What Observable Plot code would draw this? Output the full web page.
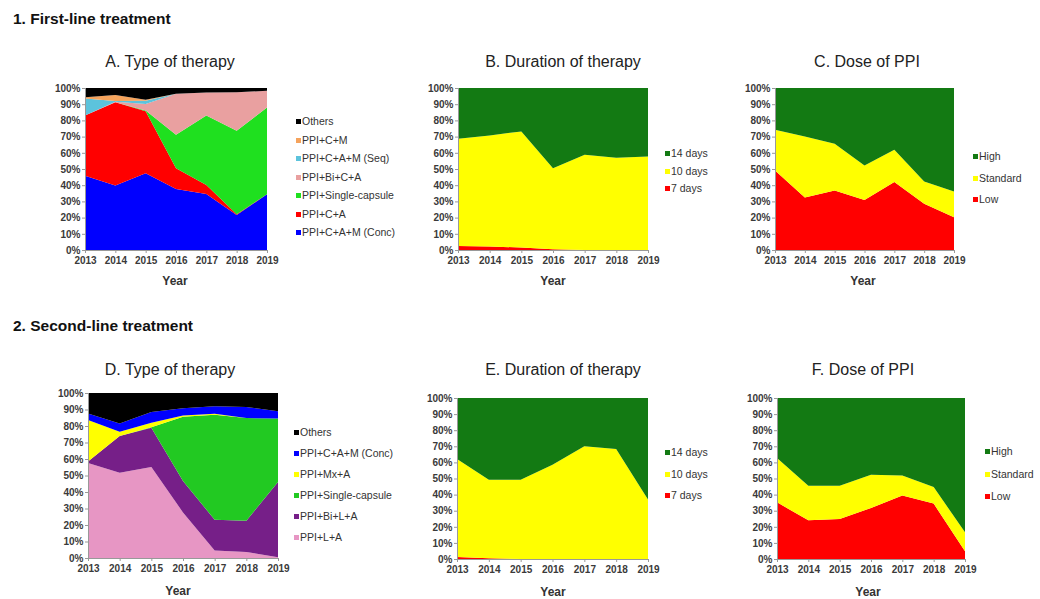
<!DOCTYPE html>
<html>
<head>
<meta charset="utf-8">
<script src="https://cdn.jsdelivr.net/npm/d3@7"></script>
<script src="https://cdn.jsdelivr.net/npm/@observablehq/plot@0.6"></script>
<style>
  html, body { margin: 0; padding: 0; background: #fff; }
  #root { position: relative; width: 1040px; height: 599px; overflow: hidden; font-family: "Liberation Sans", Arial, sans-serif; }
  .abs { position: absolute; white-space: nowrap; }
  .section { font-weight: bold; font-size: 15.5px; color: #111; transform: translateY(-50%); }
  .ptitle { font-size: 16px; color: #222; transform: translate(-50%, -50%); }
  .xlabel { font-size: 12px; font-weight: bold; color: #333; transform: translate(-50%, -50%); }
  .leg { font-size: 10.5px; color: #333; transform: translateY(-50%); }
  .sw { display: inline-block; width: 5px; height: 5px; margin-right: 1px; vertical-align: 1px; }
</style>
</head>
<body>
<div id="root"></div>
<script>
const years = [2013, 2014, 2015, 2016, 2017, 2018, 2019];
const yTicks = [0, 10, 20, 30, 40, 50, 60, 70, 80, 90, 100];

// Panel A: first-line type of therapy (bottom -> top)
const aSeries = ["PPI+C+A+M (Conc)", "PPI+C+A", "PPI+Single-capsule", "PPI+Bi+C+A", "PPI+C+A+M (Seq)", "PPI+C+M", "Others"];
const aColors = ["#0000ff", "#ff0000", "#1fe01f", "#e9a0a0", "#5cc3dc", "#f5a35c", "#000000"];
const aConc   = [45.8, 39.8, 47.4, 37.7, 34.6, 21.6, 34.4];
const aCA     = [37.2, 51.4, 38.2, 12.8, 5.6, 0.5, 0];
const aSingle = [0, 0, 0.5, 20.6, 42.8, 51.5, 53.6];
const aBiCA   = [0, 0.3, 4.0, 25.4, 14.2, 23.7, 10.3];
const aSeq    = [10.5, 0.5, 2.0, 0, 0, 0, 0];
const aCM     = [0.8, 3.7, 0.7, 0, 0, 0, 0];
const aOthers = [5.7, 4.3, 7.2, 3.5, 2.8, 2.7, 1.7];

// Panel B: first-line duration
const durSeries = ["7 days", "10 days", "14 days"];
const durColors = ["#ff0000", "#ffff00", "#137a13"];
const b7  = [2.5, 2.2, 1.5, 0.5, 0, 0, 0];
const b10 = [66.2, 68.5, 71.7, 50.0, 58.8, 56.9, 57.7];
const b14 = [31.3, 29.3, 26.8, 49.5, 41.2, 43.1, 42.3];

// Panel C: first-line dose
const doseSeries = ["Low", "Standard", "High"];
const doseColors = ["#ff0000", "#ffff00", "#137a13"];
const cLow  = [49.1, 32.4, 36.7, 30.9, 41.9, 28.5, 20.2];
const cStd  = [25.1, 37.7, 28.9, 21.3, 20.0, 13.8, 15.9];
const cHigh = [25.8, 29.9, 34.4, 47.8, 38.1, 57.7, 63.9];

// Panel D: second-line type of therapy (bottom -> top)
const dSeries = ["PPI+L+A", "PPI+Bi+L+A", "PPI+Single-capsule", "PPI+Mx+A", "PPI+C+A+M (Conc)", "Others"];
const dColors = ["#e796c4", "#761f88", "#22c922", "#ffff00", "#0000ff", "#000000"];
const dLA     = [57.6, 51.6, 55.2, 27.6, 4.6, 3.6, 0.5];
const dBiLA   = [0.9, 22.4, 23.8, 19.0, 18.6, 19.0, 45.5];
const dSingle = [0, 0, 0.2, 39.0, 63.6, 62.2, 38.6];
const dMxA    = [25.1, 2.5, 2.8, 0.7, 0.7, 0, 0];
const dConc   = [4.0, 5.0, 6.5, 4.5, 4.5, 6.7, 4.4];
const dOthers = [12.4, 18.5, 11.5, 9.2, 8.0, 8.5, 11.0];

// Panel E: second-line duration
const e7  = [1.2, 0.5, 0, 0, 0, 0, 0];
const e10 = [60.9, 48.8, 49.3, 58.6, 70.0, 68.3, 36.9];
const e14 = [37.9, 50.7, 50.7, 41.4, 30.0, 31.7, 63.1];

// Panel F: second-line dose
const fLow  = [35.2, 24.0, 24.8, 31.7, 39.5, 34.4, 4.8];
const fStd  = [27.5, 21.5, 20.7, 20.7, 12.3, 10.3, 11.8];
const fHigh = [37.3, 54.5, 54.5, 47.6, 48.2, 55.3, 83.4];

function toLong(series, arrays) {
  const out = [];
  series.forEach((s, i) => years.forEach((y, j) => out.push({year: y, series: s, value: arrays[i][j]})));
  return out;
}

const root = document.getElementById("root");
function addText(cls, text, x, y) {
  const d = document.createElement("div");
  d.className = "abs " + cls;
  d.style.left = x + "px";
  d.style.top = y + "px";
  d.textContent = text;
  root.appendChild(d);
  return d;
}

function panel(cfg) {
  const ml = 44, mr = 8, mt = 8, mb = 24;
  const w = cfg.right - cfg.left + ml + mr;
  const h = cfg.bottom - cfg.top + mt + mb;
  const data = toLong(cfg.series, cfg.arrays);
  const chart = Plot.plot({
    width: w, height: h,
    marginLeft: ml, marginRight: mr, marginTop: mt, marginBottom: mb,
    style: {fontFamily: "'Liberation Sans', Arial, sans-serif", fontSize: "10px", color: "#3a3a3a", background: "transparent", overflow: "visible"},
    x: {domain: [2013, 2019], label: null},
    y: {domain: [0, 100], label: null},
    color: {domain: cfg.series, range: cfg.colors},
    marks: [
      Plot.areaY(data, {x: "year", y: "value", fill: "series", order: cfg.series, curve: "linear"}),
      Plot.ruleX([2013], {stroke: "#999", strokeWidth: 1}),
      Plot.ruleY([0], {stroke: "#999", strokeWidth: 1}),
      Plot.axisY({ticks: yTicks, tickFormat: d => d + "%", tickSize: 3, tickPadding: 2, stroke: "#999", fontWeight: "bold", label: null}),
      Plot.axisX({ticks: years, tickFormat: d => String(d), tickSize: 3, tickPadding: 3, stroke: "#999", fontWeight: "bold", label: null})
    ]
  });
  chart.style.position = "absolute";
  chart.style.left = (cfg.left - ml) + "px";
  chart.style.top = (cfg.top - mt) + "px";
  root.appendChild(chart);

  addText("ptitle", cfg.title, cfg.titleX, cfg.titleY);
  addText("xlabel", "Year", cfg.yearX, cfg.yearY);

  // legend (top -> bottom is reverse of stacking order)
  const items = cfg.series.map((s, i) => ({s, c: cfg.colors[i]})).reverse();
  items.forEach((it, k) => {
    const d = document.createElement("div");
    d.className = "abs leg";
    d.style.left = cfg.legX + "px";
    d.style.top = (cfg.legY + k * cfg.legStep) + "px";
    const sw = document.createElement("span");
    sw.className = "sw";
    sw.style.background = it.c;
    d.appendChild(sw);
    d.appendChild(document.createTextNode(it.s));
    root.appendChild(d);
  });
}

addText("section", "1. First-line treatment", 13, 19);
addText("section", "2. Second-line treatment", 13, 326);

panel({left: 85, right: 267, top: 88, bottom: 250, series: aSeries, colors: aColors,
  arrays: [aConc, aCA, aSingle, aBiCA, aSeq, aCM, aOthers],
  title: "A. Type of therapy", titleX: 170, titleY: 62, yearX: 175, yearY: 281,
  legX: 296, legY: 121, legStep: 18.5});
panel({left: 458, right: 648, top: 88, bottom: 250, series: durSeries, colors: durColors,
  arrays: [b7, b10, b14],
  title: "B. Duration of therapy", titleX: 563, titleY: 62, yearX: 553, yearY: 281,
  legX: 665, legY: 153, legStep: 17.5});
panel({left: 775, right: 954, top: 88, bottom: 250, series: doseSeries, colors: doseColors,
  arrays: [cLow, cStd, cHigh],
  title: "C. Dose of PPI", titleX: 867, titleY: 62, yearX: 863, yearY: 281,
  legX: 973, legY: 156, legStep: 21.5});
panel({left: 88, right: 278, top: 393, bottom: 558, series: dSeries, colors: dColors,
  arrays: [dLA, dBiLA, dSingle, dMxA, dConc, dOthers],
  title: "D. Type of therapy", titleX: 170, titleY: 370, yearX: 178, yearY: 591,
  legX: 294, legY: 432, legStep: 21});
panel({left: 457, right: 648, top: 398, bottom: 559, series: durSeries, colors: durColors,
  arrays: [e7, e10, e14],
  title: "E. Duration of therapy", titleX: 563, titleY: 370, yearX: 553, yearY: 592,
  legX: 665, legY: 452, legStep: 21.5});
panel({left: 777, right: 965, top: 398, bottom: 559, series: doseSeries, colors: doseColors,
  arrays: [fLow, fStd, fHigh],
  title: "F. Dose of PPI", titleX: 863, titleY: 370, yearX: 868, yearY: 592,
  legX: 985, legY: 451, legStep: 22.5});
</script>
</body>
</html>
